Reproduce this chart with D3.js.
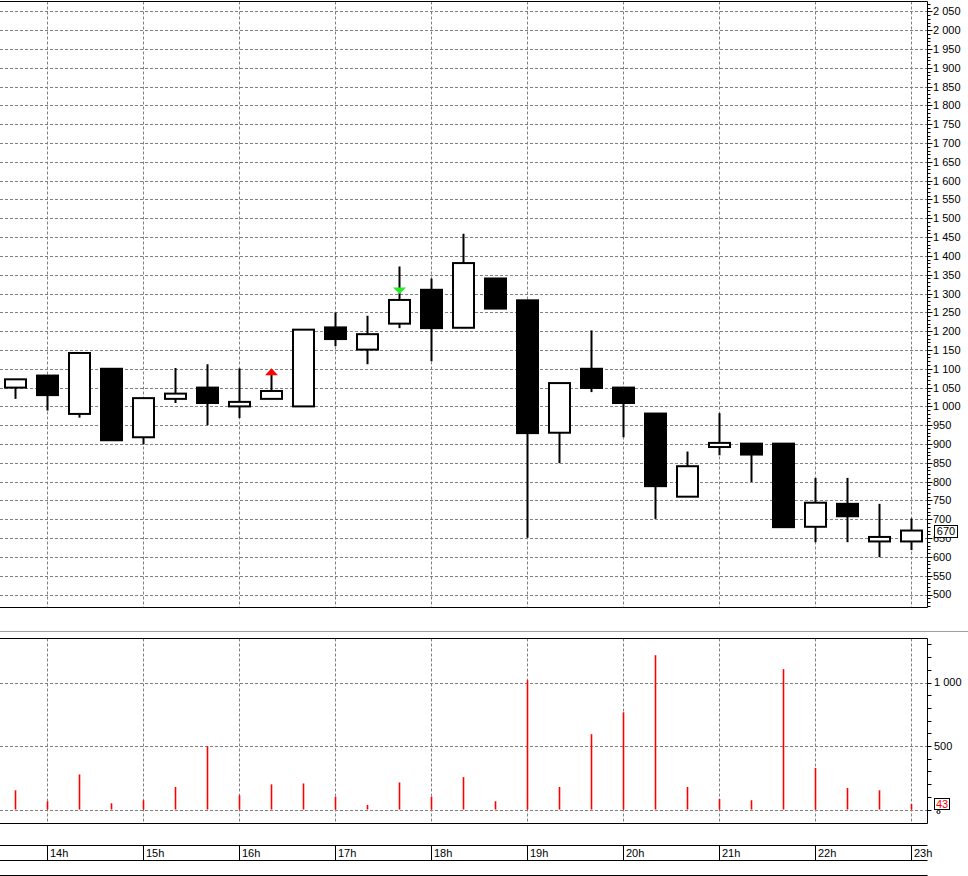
<!DOCTYPE html>
<html>
<head>
<meta charset="utf-8">
<script src="https://cdn.jsdelivr.net/npm/d3@7/dist/d3.min.js"></script>
<style>
  html, body { margin: 0; padding: 0; background: #fff; }
  svg { display: block; }
  text { font-family: "Liberation Sans", Arial, sans-serif; font-size: 11px; }
</style>
</head>
<body>
<svg id="chart" width="968" height="876"></svg>
<script>
// ---- data (20-minute candles) ----
const times  = ["13:40","14:00","14:20","14:40","15:00","15:20","15:40","16:00","16:20","16:40",
                "17:00","17:20","17:40","18:00","18:20","18:40","19:00","19:20","19:40","20:00",
                "20:20","20:40","21:00","21:20","21:40","22:00","22:20","22:40","23:00"];
const opens  = [1050,1082, 980,1100, 918,1020,1050,1000,1020,1000,
                1210,1151,1220,1310,1209,1340,1282, 930,1100,1050,
                 981, 760, 892, 901, 901, 680, 741, 641, 641];
const highs  = [1072,1082,1142,1100,1022,1102,1112,1101,1088,1204,
                1250,1241,1372,1340,1459,1340,1282,1062,1202,1050,
                 981, 880, 982, 901, 901, 810, 810, 741, 702];
const lows   = [1020, 989, 970, 910, 899,1009, 950, 969,1020,1000,
                1160,1112,1208,1120,1209,1260, 651, 849,1038, 918,
                 701, 760, 870, 799, 679, 639, 639, 599, 618];
const closes = [1072,1030,1142, 910,1022,1034,1009,1012,1041,1204,
                1179,1192,1283,1208,1381,1260, 929,1062,1049,1009,
                 788, 841, 903, 872, 679, 744, 708, 653, 670];
const volumes = [151, 65, 276, 49, 73, 177, 498, 112, 198, 205,
                 101, 36, 213, 101, 255, 65, 1018, 177, 593, 766,
                 1215, 177, 83, 73, 1105, 328, 169, 151, 43];
const signalUp   = ["16:20"];   // red arrow
const signalDown = ["17:40"];   // green arrow
const hourTicks  = ["14:00","15:00","16:00","17:00","18:00","19:00","20:00","21:00","22:00","23:00"];
const priceMin = 500, priceMax = 2050, priceStep = 50;
const volTicks = [500, 1000];

// ---- helpers ----
const parse = s => { const [h,m] = s.split(":").map(Number); return new Date(2020,0,1,h,m); };
const data = times.map((t,i) => ({t: parse(t), o: opens[i], h: highs[i], l: lows[i], c: closes[i], v: volumes[i]}));
const fmt = v => { const s = String(v); return s.length > 3 ? s.slice(0, s.length-3) + " " + s.slice(-3) : s; };

const svg = d3.select("#chart");
const plotR = 927.5;
const mainTop = 1.5, mainBot = 607.5;
const volTop = 638.5, volBot = 823.5;

const x = d3.scaleTime().domain([parse("13:40"), parse("23:00")]).range([15.5, 911.5]);
const y = d3.scaleLinear().domain([500, 2050]).range([594.5, 11.4]);
const yv = d3.scaleLinear().domain([0, 1000]).range([809.5, 682.5]);

const grid = "#808080";
const priceLevels = d3.range(priceMin, priceMax + 1, priceStep);
const hours = hourTicks.map(parse);

// ---- main panel grid ----
const gMain = svg.append("g");
gMain.selectAll(".hg").data(priceLevels).join("line")
  .attr("x1", 0).attr("x2", plotR)
  .attr("y1", d => Math.round(y(d)) + 0.5).attr("y2", d => Math.round(y(d)) + 0.5)
  .attr("stroke", grid).attr("stroke-dasharray", "3,2");
gMain.selectAll(".vg").data(hours).join("line")
  .attr("x1", d => Math.floor(x(d)) + 0.5).attr("x2", d => Math.floor(x(d)) + 0.5)
  .attr("y1", mainTop).attr("y2", mainBot)
  .attr("stroke", grid).attr("stroke-dasharray", "3,2");

// ---- candles ----
const bw = 21;
const gC = svg.append("g");
gC.selectAll(".wick").data(data).join("line")
  .attr("x1", d => x(d.t)).attr("x2", d => x(d.t))
  .attr("y1", d => y(d.h)).attr("y2", d => y(d.l))
  .attr("stroke", "#000").attr("stroke-width", 2);
gC.selectAll(".body").data(data).join("rect")
  .attr("x", d => x(d.t) - bw/2)
  .attr("y", d => y(Math.max(d.o, d.c)))
  .attr("width", bw)
  .attr("height", d => Math.max(1, y(Math.min(d.o, d.c)) - y(Math.max(d.o, d.c))))
  .attr("fill", d => d.c >= d.o ? "#fff" : "#000")
  .attr("stroke", "#000").attr("stroke-width", 2);

// signals
const upData = data.filter(d => signalUp.includes(times[data.indexOf(d)]));
gC.selectAll(".sup").data(upData).join("path")
  .attr("d", d => { const cx = x(d.t), yy = y(d.h); return `M${cx-6.5},${yy+2}L${cx+6.5},${yy+2}L${cx},${yy-5}Z`; })
  .attr("fill", "#ff0000");
const dnData = data.filter(d => signalDown.includes(times[data.indexOf(d)]));
gC.selectAll(".sdn").data(dnData).join("path")
  .attr("d", d => { const cx = x(d.t), yy = y(Math.max(d.o, d.c)); return `M${cx-6.5},${yy-12.5}L${cx+6.5},${yy-12.5}L${cx},${yy-6}Z`; })
  .attr("fill", "#22ee22");

// ---- main borders ----
svg.append("line").attr("x1", 0).attr("x2", plotR).attr("y1", mainTop).attr("y2", mainTop).attr("stroke", "#000");
svg.append("line").attr("x1", 0).attr("x2", plotR).attr("y1", mainBot).attr("y2", mainBot).attr("stroke", "#000");
svg.append("line").attr("x1", plotR).attr("x2", plotR).attr("y1", mainTop).attr("y2", mainBot).attr("stroke", "#000");

// ---- main right axis ----
const minorLevels = d3.range(470, 2071, 10).filter(v => y(v) > mainTop + 1 && y(v) < mainBot - 1);
svg.append("g").selectAll("line").data(minorLevels).join("line")
  .attr("x1", plotR).attr("x2", d => plotR + (d % 50 === 0 ? 5 : 3))
  .attr("y1", d => Math.round(y(d)) + 0.5).attr("y2", d => Math.round(y(d)) + 0.5)
  .attr("stroke", "#000");
svg.append("g").selectAll("text").data(priceLevels).join("text")
  .attr("x", 933).attr("y", d => y(d)).attr("dy", "0.36em")
  .attr("fill", "#000").text(d => fmt(d));

// last price box
const last = data[data.length - 1];
const gLast = svg.append("g");
gLast.append("rect").attr("x", 934.5).attr("y", Math.round(y(last.c)) - 5.5).attr("width", 23).attr("height", 12)
  .attr("fill", "#fff").attr("stroke", "#000");
gLast.append("text").attr("x", 946).attr("y", Math.round(y(last.c)) + 0.5).attr("dy", "0.36em")
  .attr("text-anchor", "middle").attr("fill", "#000").text(last.c);

// ---- separator ----
svg.append("line").attr("x1", 0).attr("x2", 968).attr("y1", 631.5).attr("y2", 631.5).attr("stroke", "#a0a0a0");

// ---- volume panel ----
const gV = svg.append("g");
gV.selectAll(".hg").data([0, 500, 1000]).join("line")
  .attr("x1", 0).attr("x2", plotR)
  .attr("y1", d => Math.round(yv(d)) + 0.5).attr("y2", d => Math.round(yv(d)) + 0.5)
  .attr("stroke", grid).attr("stroke-dasharray", "3,2");
gV.selectAll(".vg").data(hours).join("line")
  .attr("x1", d => Math.floor(x(d)) + 0.5).attr("x2", d => Math.floor(x(d)) + 0.5)
  .attr("y1", volTop).attr("y2", volBot)
  .attr("stroke", grid).attr("stroke-dasharray", "3,2");
gV.selectAll(".vb").data(data).join("line")
  .attr("x1", d => x(d.t)).attr("x2", d => x(d.t))
  .attr("y1", yv(0)).attr("y2", d => yv(d.v))
  .attr("stroke", "#ff0000").attr("stroke-width", 1.6);

svg.append("line").attr("x1", 0).attr("x2", plotR).attr("y1", volTop).attr("y2", volTop).attr("stroke", "#000");
svg.append("line").attr("x1", 0).attr("x2", plotR).attr("y1", volBot).attr("y2", volBot).attr("stroke", "#000");
svg.append("line").attr("x1", plotR).attr("x2", plotR).attr("y1", volTop).attr("y2", volBot).attr("stroke", "#000");

svg.append("g").selectAll("line").data(d3.range(0, 1301, 100)).join("line")
  .attr("x1", plotR).attr("x2", plotR + 4)
  .attr("y1", d => Math.round(yv(d)) + 0.5).attr("y2", d => Math.round(yv(d)) + 0.5)
  .attr("stroke", "#000");
svg.append("g").selectAll("text").data(volTicks).join("text")
  .attr("x", 934).attr("y", d => yv(d)).attr("dy", "0.36em")
  .attr("fill", "#000").text(d => fmt(d));

const gVL = svg.append("g");
gVL.append("circle").attr("cx", 938.5).attr("cy", 812).attr("r", 1.6).attr("fill", "#fff").attr("stroke", "#000");
gVL.append("rect").attr("x", 934.5).attr("y", Math.round(yv(last.v)) - 5.5).attr("width", 15).attr("height", 11)
  .attr("fill", "#fff").attr("stroke", "#000");
gVL.append("text").attr("x", 942).attr("y", Math.round(yv(last.v))).attr("dy", "0.36em")
  .attr("text-anchor", "middle").attr("fill", "#ff0000").text(last.v);

// ---- time axis strip ----
const gT = svg.append("g");
gT.append("line").attr("x1", 0).attr("x2", plotR).attr("y1", 845.5).attr("y2", 845.5).attr("stroke", "#000");
gT.append("line").attr("x1", 0).attr("x2", plotR).attr("y1", 860.5).attr("y2", 860.5).attr("stroke", "#000");
gT.append("line").attr("x1", 0).attr("x2", plotR).attr("y1", 875.5).attr("y2", 875.5).attr("stroke", "#000");
gT.selectAll(".ts").data(hours).join("line")
  .attr("x1", d => Math.floor(x(d)) + 0.5).attr("x2", d => Math.floor(x(d)) + 0.5)
  .attr("y1", 845.5).attr("y2", 860.5).attr("stroke", "#000");
gT.selectAll("text").data(hours).join("text")
  .attr("x", d => Math.floor(x(d)) + 3).attr("y", 857)
  .attr("fill", "#000").text(d => d3.timeFormat("%H")(d) + "h");
</script>
</body>
</html>
